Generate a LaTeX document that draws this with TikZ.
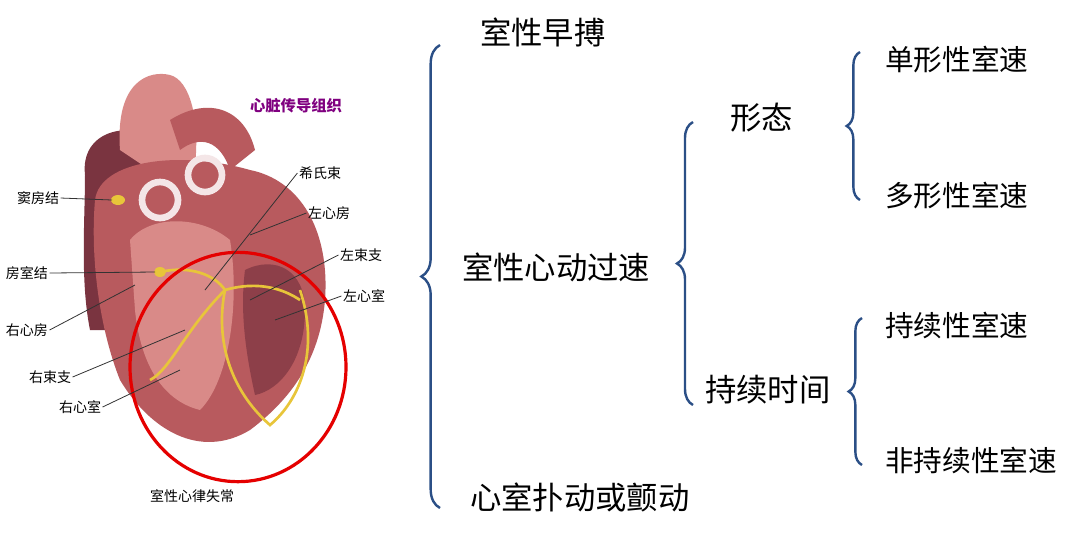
\documentclass[tikz,border=0pt]{standalone}
\usepackage{fontspec}
\setmainfont{Noto Sans CJK SC}
\usetikzlibrary{decorations.pathreplacing,shapes.geometric}
\definecolor{brc}{HTML}{2B4F86}
\definecolor{hrt}{HTML}{B85A5E}
\definecolor{hrtl}{HTML}{D98A88}
\definecolor{hrtd}{HTML}{7A3440}
\definecolor{cond}{HTML}{E8C53A}
\begin{document}
\begin{tikzpicture}[x=0.75pt,y=-0.75pt,
  big/.style={font=\fontsize{23.5}{24}\selectfont, inner sep=0pt},
  mid/.style={font=\fontsize{21.5}{22}\selectfont, inner sep=0pt},
  lab/.style={font=\fontsize{10.5}{11}\selectfont, inner sep=1pt},
  br/.style={draw=brc, line width=1.8pt, decorate, decoration={brace, amplitude=14pt, mirror}},
  lead/.style={draw=black!80, line width=0.6pt},
  cnd/.style={draw=cond, line width=2pt}]
\useasboundingbox (0,0) rectangle (1080,537);
\fill[white] (0,0) rectangle (1080,537);
% heart drawing
\fill[hrtd] (85,175) .. controls (80,130) and (130,120) .. (160,140) -- (165,330) -- (90,330) .. controls (80,280) and (85,220) .. (85,175) -- cycle;
\fill[hrtl] (120,150) .. controls (115,80) and (150,70) .. (170,75) .. controls (190,80) and (200,120) .. (195,165) -- (150,170) -- cycle;
\fill[hrt] (170,120) .. controls (210,95) and (245,110) .. (255,150) -- (230,170) .. controls (220,140) and (200,135) .. (180,150) -- cycle;
\fill[hrt] (95,200) .. controls (100,160) and (180,150) .. (250,170) .. controls (300,180) and (330,230) .. (325,300) .. controls (320,360) and (290,400) .. (250,430) .. controls (200,460) and (150,430) .. (120,380) .. controls (100,330) and (90,260) .. (95,200) -- cycle;
\fill[hrtl] (130,240) .. controls (150,215) and (200,215) .. (230,240) .. controls (240,300) and (230,380) .. (200,410) .. controls (160,400) and (140,360) .. (135,310) -- cycle;
\fill[hrtd!70!hrt] (245,270) .. controls (275,255) and (305,270) .. (305,310) .. controls (305,360) and (280,390) .. (255,395) .. controls (245,350) and (240,310) .. (245,270) -- cycle;
\draw[white!85!hrt, line width=5pt] (160,200) circle (18);
\draw[white!85!hrt, line width=5pt] (205,175) circle (17);
\draw[cnd] (160,272) .. controls (190,265) and (215,275) .. (225,290);
\draw[cnd] (225,290) .. controls (215,340) and (230,390) .. (270,425) .. controls (300,400) and (320,350) .. (300,290);
\draw[cnd] (225,290) .. controls (185,330) and (170,370) .. (150,380);
\draw[cnd] (225,290) .. controls (260,280) and (285,290) .. (300,300);
\fill[cond] (160,272) ellipse (6 and 5);
\fill[cond] (118,200) ellipse (7 and 5);
\node[ellipse, draw=red!90!black, line width=2.4pt, minimum width=162pt, minimum height=172pt] (circ) at (238,367) {};
% labels
\node[lab, text=violet, font=\bfseries\fontsize{11.5}{12}\selectfont] (cz) at (296,106) {心脏传导组织};
\node[lab] (x1) at (320,173) {希氏束};
\node[lab] (x2) at (329,213) {左心房};
\node[lab] (x3) at (361,255) {左束支};
\node[lab] (x4) at (364,296) {左心室};
\node[lab] (y1) at (38,198) {窦房结};
\node[lab] (y2) at (27,273) {房室结};
\node[lab] (y3) at (27,330) {右心房};
\node[lab] (y4) at (50,377) {右束支};
\node[lab] (y5) at (80,407) {右心室};
\node[lab] (cap) at (192,496) {室性心律失常};
\coordinate (t1) at (205,290); \coordinate (t2) at (250,235);
\coordinate (t3) at (250,300); \coordinate (t4) at (275,320);
\coordinate (u1) at (112,200); \coordinate (u2) at (155,272);
\coordinate (u3) at (135,285); \coordinate (u4) at (185,330); \coordinate (u5) at (180,370);
\draw[lead] (x1.west) -- (t1); \draw[lead] (x2.west) -- (t2);
\draw[lead] (x3.west) -- (t3); \draw[lead] (x4.west) -- (t4);
\draw[lead] (y1.east) -- (u1); \draw[lead] (y2.east) -- (u2);
\draw[lead] (y3.east) -- (u3); \draw[lead] (y4.east) -- (u4); \draw[lead] (y5.east) -- (u5);
% tree
\node[big, anchor=west] (a1) at (480,32) {室性早搏};
\node[big, anchor=west] (a2) at (462,267) {室性心动过速};
\node[big, anchor=west] (a3) at (470,497) {心室扑动或颤动};
\node[big, anchor=west] (b1) at (730,118) {形态};
\node[big, anchor=west] (b2) at (705,390) {持续时间};
\node[mid, anchor=west] (c1) at (885,60) {单形性室速};
\node[mid, anchor=west] (c2) at (885,196) {多形性室速};
\node[mid, anchor=west] (c3) at (885,325) {持续性室速};
\node[mid, anchor=west] (c4) at (885,460) {非持续性室速};
\coordinate (p1t) at (440,45); \coordinate (p1b) at (440,508);
\coordinate (p2t) at (693,122); \coordinate (p2b) at (693,405);
\coordinate (p3t) at (860,52); \coordinate (p3b) at (860,200);
\coordinate (p4t) at (862,318); \coordinate (p4b) at (862,465);
\draw[br] (p1t) -- (p1b);
\draw[br, decoration={amplitude=12pt}] (p2t) -- (p2b);
\draw[br, decoration={amplitude=10pt}] (p3t) -- (p3b);
\draw[br, decoration={amplitude=10pt}] (p4t) -- (p4b);
\end{tikzpicture}
\end{document}
